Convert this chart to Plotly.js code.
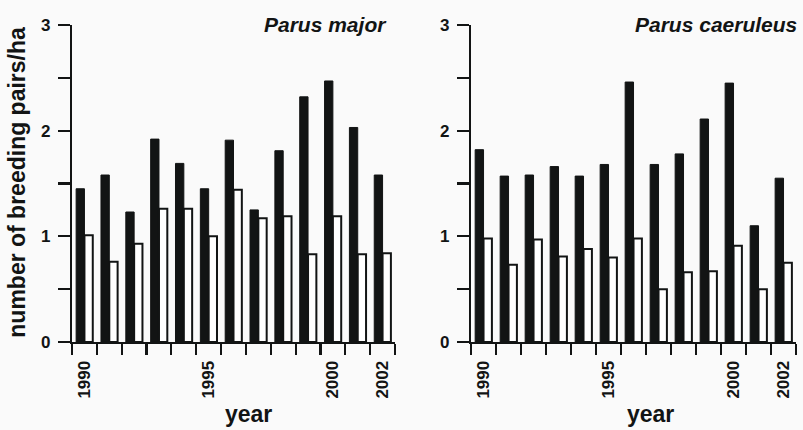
<!DOCTYPE html>
<html>
<head>
<meta charset="utf-8">
<script src="https://cdn.plot.ly/plotly-3.0.1.min.js"></script>
<style>
html,body{margin:0;padding:0;background:#fafafa;}
#chart{width:803px;height:430px;}
</style>
</head>
<body>
<div id="chart"></div>
<script>
// Data
var years = [1990,1991,1992,1993,1994,1995,1996,1997,1998,1999,2000,2001,2002];
var majorBlack = [1.45,1.58,1.23,1.92,1.69,1.45,1.91,1.25,1.81,2.32,2.47,2.03,1.58];
var majorWhite = [1.01,0.76,0.93,1.26,1.26,1.00,1.44,1.17,1.19,0.83,1.19,0.83,0.84];
var caerBlack  = [1.82,1.57,1.58,1.66,1.57,1.68,2.46,1.68,1.78,2.11,2.45,1.10,1.55];
var caerWhite  = [0.98,0.73,0.97,0.81,0.88,0.80,0.98,0.50,0.66,0.67,0.91,0.50,0.75];
var yearLabels = [1990,1995,2000,2002];
var yTicks = [0,1,2,3];
var yMinor = [0.5,1.5,2.5];

var ink = '#121414';
var boundaries = years.map(function(y){return y-0.5;}).concat([years[years.length-1]+0.5]);

function blackTrace(y, xa, ya){
  return {type:'bar', x:years, y:y, xaxis:xa, yaxis:ya,
    marker:{color:ink, line:{color:ink, width:1}}, showlegend:false, hoverinfo:'skip'};
}
function whiteTrace(y, xa, ya){
  return {type:'bar', x:years, y:y, xaxis:xa, yaxis:ya,
    marker:{color:'#ffffff', line:{color:ink, width:2}}, showlegend:false, hoverinfo:'skip'};
}

var data = [
  blackTrace(majorBlack,'x','y'), whiteTrace(majorWhite,'x','y'),
  blackTrace(caerBlack,'x2','y2'), whiteTrace(caerWhite,'x2','y2')
];

var tickFont = {family:'Liberation Sans, Arial, sans-serif', size:17, weight:700, color:ink};

function xAxis(domain, anchor){
  return {domain:domain, anchor:anchor, range:[1989.5,2002.5], showgrid:false, zeroline:false,
    showline:true, linecolor:ink, linewidth:2,
    tickmode:'array', tickvals:yearLabels, ticktext:yearLabels.map(String), tickangle:-90,
    ticks:'', ticklabelstandoff:10, tickfont:tickFont,
    minor:{tickmode:'array', tickvals:boundaries, ticks:'outside', ticklen:11, tickwidth:2.2, tickcolor:ink, showgrid:false}
  };
}
function yAxis(anchor){
  return {domain:[0.2047,0.9419], anchor:anchor, range:[0,3], showgrid:false, zeroline:false,
    showline:true, linecolor:ink, linewidth:2.2,
    tickmode:'array', tickvals:yTicks, ticks:'outside', ticklen:12, tickwidth:2.2, tickcolor:ink,
    ticklabelstandoff:4, tickfont:tickFont,
    minor:{tickmode:'array', tickvals:yMinor, ticks:'outside', ticklen:12, tickwidth:2.2, tickcolor:ink, showgrid:false}
  };
}

var titleFont = {family:'Liberation Sans, Arial, sans-serif', size:23, weight:700, color:ink};
var spFont = {family:'Liberation Sans, Arial, sans-serif', size:21, weight:700, style:'italic', color:ink};

var layout = {
  width:803, height:430,
  margin:{l:0,r:0,t:0,b:0},
  paper_bgcolor:'#fafafa', plot_bgcolor:'rgba(0,0,0,0)',
  barmode:'group', bargap:0.33, bargroupgap:0,
  xaxis:xAxis([0.0897,0.4919],'y'),
  yaxis:yAxis('x'),
  xaxis2:xAxis([0.5866,0.9913],'y2'),
  yaxis2:yAxis('x2'),
  annotations:[
    {text:'number of breeding pairs/ha', xref:'paper', yref:'paper', x:0.0208, y:0.5767,
     textangle:-90, showarrow:false, font:titleFont, xanchor:'center', yanchor:'middle'},
    {text:'year', xref:'paper', yref:'paper', x:248/803, y:(430-414)/430, showarrow:false,
     font:titleFont, xanchor:'center', yanchor:'middle'},
    {text:'year', xref:'paper', yref:'paper', x:650/803, y:(430-414)/430, showarrow:false,
     font:titleFont, xanchor:'center', yanchor:'middle'},
    {text:'Parus major', xref:'paper', yref:'paper', x:389/803, y:(430-25)/430, showarrow:false,
     font:spFont, xanchor:'right', yanchor:'middle'},
    {text:'Parus caeruleus', xref:'paper', yref:'paper', x:799/803, y:(430-25)/430, showarrow:false,
     font:spFont, xanchor:'right', yanchor:'middle'}
  ]
};

Plotly.newPlot('chart', data, layout, {displayModeBar:false, staticPlot:true});
</script>
</body>
</html>
